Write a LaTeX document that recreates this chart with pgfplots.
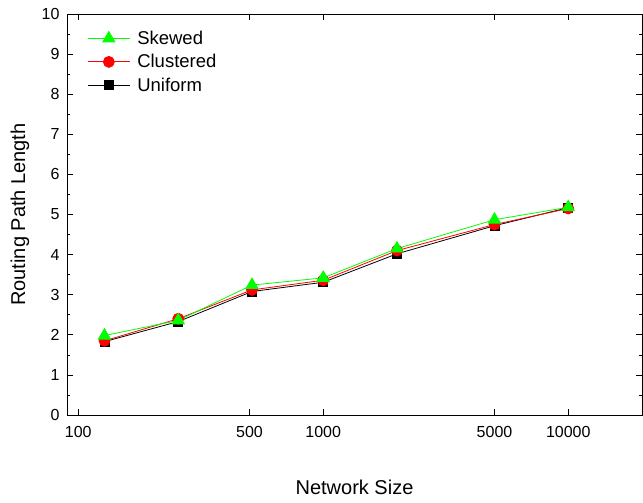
\documentclass[border=0pt]{standalone}
\usepackage{fontspec}
\setmainfont{Liberation Sans}
\usepackage{pgfplots}
\pgfplotsset{compat=1.18}

\begin{document}
\begin{tikzpicture}
\begin{axis}[
  scale only axis,
  width=575pt,
  height=401pt,
  xmode=log,
  xmin=90, xmax=20000,
  ymin=0, ymax=10,
  xtick={100,500,1000,5000,10000},
  xticklabels={100,500,1000,5000,10000},
  xminorticks=false,
  ytick={0,1,...,10},
  minor y tick num=1,
  tick align=inside,
  major tick length=6pt,
  minor tick length=3pt,
  tick style={black, line width=0.6pt},
  axis line style={line width=0.8pt},
  /pgf/number format/assume math mode=true,
  tick label style={font=\fontsize{16}{16}\selectfont},
  x tick label style={yshift=-8pt},
  y tick label style={xshift=-4pt},
  xlabel={Network Size},
  ylabel={Routing Path Length},
  label style={font=\fontsize{20}{20}\selectfont},
  xlabel style={at={(axis description cs:0.5,-0.1796)}, anchor=center},
  ylabel style={at={(axis description cs:-0.0817,0.5)}, anchor=center},
  reverse legend,
  legend cell align=left,
  legend image code/.code={
    \draw[mark repeat=2, mark phase=2] plot coordinates {(0pt,0pt) (21pt,0pt) (42pt,0pt)};
  },
  legend style={at={(axis description cs:0.03,0.968)}, anchor=north west, draw=none, fill=none,
    font=\fontsize{18.5}{18.5}\selectfont, row sep=4.5pt,
    /tikz/every odd column/.style={column sep=5pt}},
]
\addplot[black, line width=0.8pt, mark=square*, mark size=4.5pt, mark options={fill=black}]
  coordinates {(128,1.83) (256,2.33) (512,3.08) (1000,3.31) (2000,4.02) (5000,4.72) (10000,5.17)};
\addlegendentry{Uniform}
\addplot[red, line width=0.8pt, mark=*, mark size=5.5pt, mark options={fill=red}]
  coordinates {(128,1.85) (256,2.40) (512,3.12) (1000,3.36) (2000,4.10) (5000,4.75) (10000,5.15)};
\addlegendentry{Clustered}
\addplot[green, line width=0.8pt, mark=triangle*, mark size=7pt, mark options={fill=green}]
  coordinates {(128,1.98) (256,2.36) (512,3.24) (1000,3.42) (2000,4.15) (5000,4.87) (10000,5.18)};
\addlegendentry{Skewed}
\end{axis}
\useasboundingbox (current axis.south west) ++(-67pt,-87pt) rectangle ([shift={(1pt,14pt)}]current axis.north east);
\end{tikzpicture}
\end{document}
